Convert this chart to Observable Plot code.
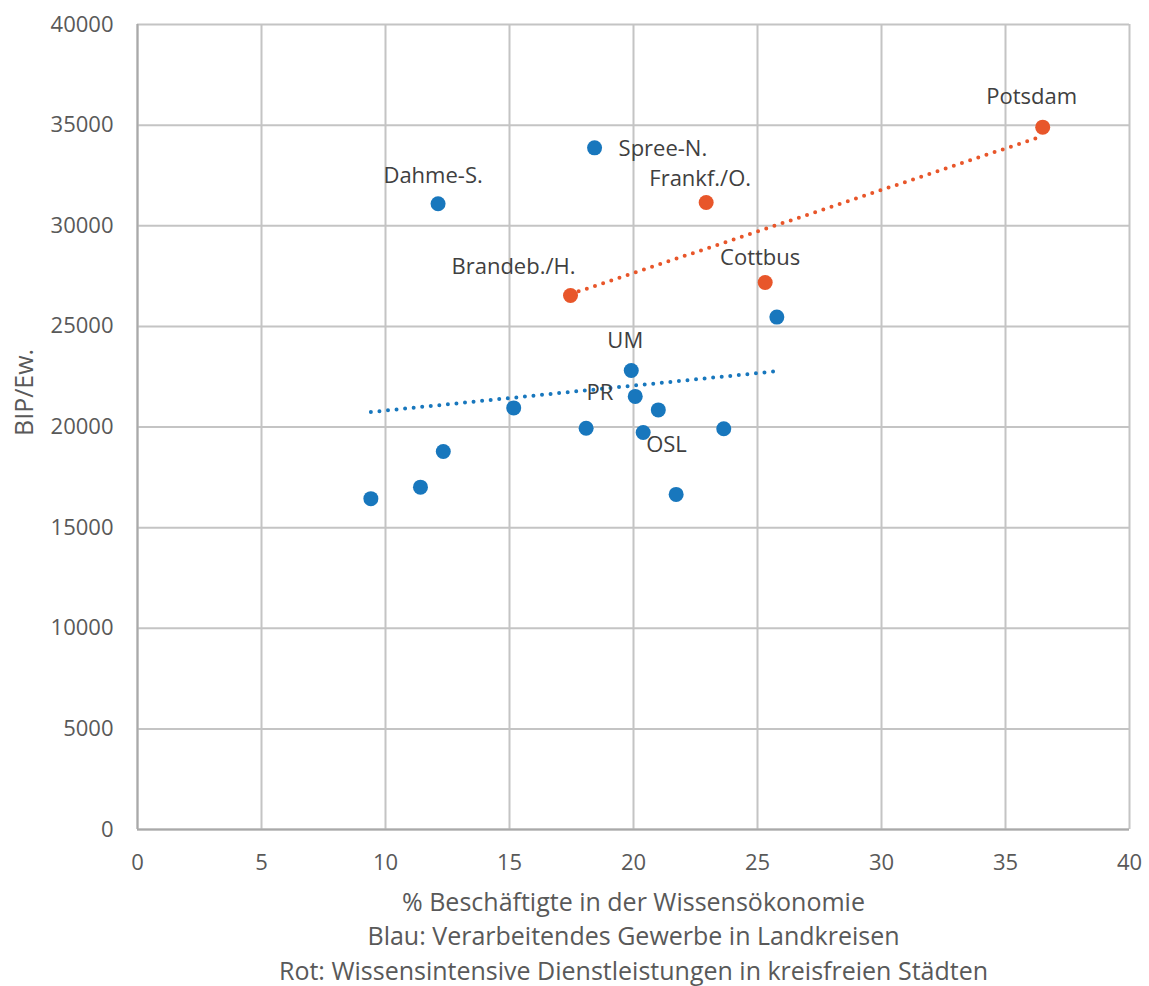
<!DOCTYPE html>
<html>
<head>
<meta charset="utf-8">
<script src="https://cdn.jsdelivr.net/npm/d3@7"></script>
<script src="https://cdn.jsdelivr.net/npm/@observablehq/plot@0.6"></script>
<style>
  html, body { margin: 0; padding: 0; background: #fff; }
  #chart svg { display: block; }
</style>
</head>
<body>
<div id="chart"></div>
<script>
// ---- Data ----
// Landkreise (blue): % employed in knowledge economy vs. GDP per inhabitant
const landkreisX = [9.41, 11.41, 12.33, 12.12, 15.17, 18.09, 18.43, 19.91, 20.07, 20.39, 21.00, 21.72, 23.64, 25.78];
const landkreisY = [16440, 17010, 18780, 31090, 20950, 19940, 33870, 22810, 21520, 19730, 20850, 16650, 19910, 25460];
const landkreisLabel = ["", "", "", "Dahme-S.", "", "", "Spree-N.", "UM", "PR", "OSL", "", "", "", ""];

// Kreisfreie Städte (red/orange)
const stadtX = [17.46, 22.93, 25.31, 36.50];
const stadtY = [26534, 31155, 27180, 34898];
const stadtLabel = ["Brandeb./H.", "Frankf./O.", "Cottbus", "Potsdam"];

const xTicks = [0, 5, 10, 15, 20, 25, 30, 35, 40];
const yTicks = [0, 5000, 10000, 15000, 20000, 25000, 30000, 35000, 40000];

const yTitle = "BIP/Ew.";
const xTitleLines = [
  "% Beschäftigte in der Wissensökonomie",
  "Blau: Verarbeitendes Gewerbe in Landkreisen",
  "Rot: Wissensintensive Dienstleistungen in kreisfreien Städten"
];

// ---- Build tables ----
const landkreise = landkreisX.map((x, i) => ({x, y: landkreisY[i], label: landkreisLabel[i]}));
const staedte = stadtX.map((x, i) => ({x, y: stadtY[i], label: stadtLabel[i]}));
const allPts = landkreise.concat(staedte);

// ---- Styles / layout (not data) ----
const BLUE = "#1877bd";
const ORANGE = "#e8562a";
const GRID = "#c4c4c4";
const AXIS = "#a9a9a9";
const TXT = "#595959";
const LBL = "#404040";
const FONT = "'Open Sans', 'Noto Sans', sans-serif";
const FS = 22;     // tick labels and point labels
const FS_T = 25;   // axis titles

const labelPlacement = {
  "Dahme-S.":    {dx: -5,  dy: -28, anchor: "middle"},
  "Spree-N.":    {dx: 24,  dy: 1,   anchor: "start"},
  "Frankf./O.":  {dx: -6,  dy: -24, anchor: "middle"},
  "Brandeb./H.": {dx: 5,   dy: -29, anchor: "end"},
  "Cottbus":     {dx: -5,  dy: -25, anchor: "middle"},
  "Potsdam":     {dx: -11, dy: -30, anchor: "middle"},
  "UM":          {dx: -6,  dy: -29, anchor: "middle"},
  "PR":          {dx: -22, dy: -3,  anchor: "end"},
  "OSL":         {dx: 3,   dy: 13,  anchor: "start"}
};

const labelMarks = Object.entries(labelPlacement).map(([name, p]) =>
  Plot.text(allPts.filter(d => d.label === name), {
    x: "x", y: "y", text: "label",
    dx: p.dx, dy: p.dy, textAnchor: p.anchor,
    fill: LBL, fontSize: FS, fontFamily: FONT
  })
);

const W = 1149, H = 986;
const mL = 137, mR = 20, mT = 24, mB = 157;

const plot = Plot.plot({
  width: W,
  height: H,
  marginLeft: mL,
  marginRight: mR,
  marginTop: mT,
  marginBottom: mB,
  style: {fontFamily: FONT, fontSize: FS + "px", color: TXT, background: "#fff", overflow: "visible"},
  x: {domain: [0, 40]},
  y: {domain: [0, 40000]},
  marks: [
    Plot.gridX(xTicks, {stroke: GRID, strokeOpacity: 1, strokeWidth: 2}),
    Plot.gridY(yTicks, {stroke: GRID, strokeOpacity: 1, strokeWidth: 2}),
    Plot.ruleX([0], {stroke: AXIS, strokeWidth: 2}),
    Plot.ruleY([0], {stroke: AXIS, strokeWidth: 2}),
    Plot.axisX(xTicks, {tickSize: 0, tickPadding: 25, label: null, fill: TXT, fontSize: FS, tickFormat: d => String(d)}),
    Plot.axisY(yTicks, {tickSize: 0, tickPadding: 24, label: null, fill: TXT, fontSize: FS, tickFormat: d => String(d)}),
    Plot.dot(landkreise, {x: "x", y: "y", r: 7.5, fill: BLUE, stroke: "none"}),
    Plot.dot(staedte, {x: "x", y: "y", r: 7.5, fill: ORANGE, stroke: "none"}),
    Plot.linearRegressionY(landkreise, {x: "x", y: "y", ci: 0, stroke: BLUE, strokeWidth: 4, strokeDasharray: "0,8.6", strokeLinecap: "round"}),
    Plot.linearRegressionY(staedte, {x: "x", y: "y", ci: 0, stroke: ORANGE, strokeWidth: 4, strokeDasharray: "0,8.6", strokeLinecap: "round"}),
    ...labelMarks,
    // y axis title (rotated)
    Plot.text([yTitle], {frameAnchor: "left", dx: -113, dy: 9, rotate: -90, text: d => d, fill: TXT, fontSize: FS_T, fontFamily: FONT}),
    // x axis title lines
    ...xTitleLines.map((t, i) =>
      Plot.text([t], {frameAnchor: "bottom", dy: 81 + i * 34.5, text: d => d, fill: TXT, fontSize: FS_T, fontFamily: FONT})
    )
  ]
});

document.getElementById("chart").appendChild(plot);
</script>
</body>
</html>
